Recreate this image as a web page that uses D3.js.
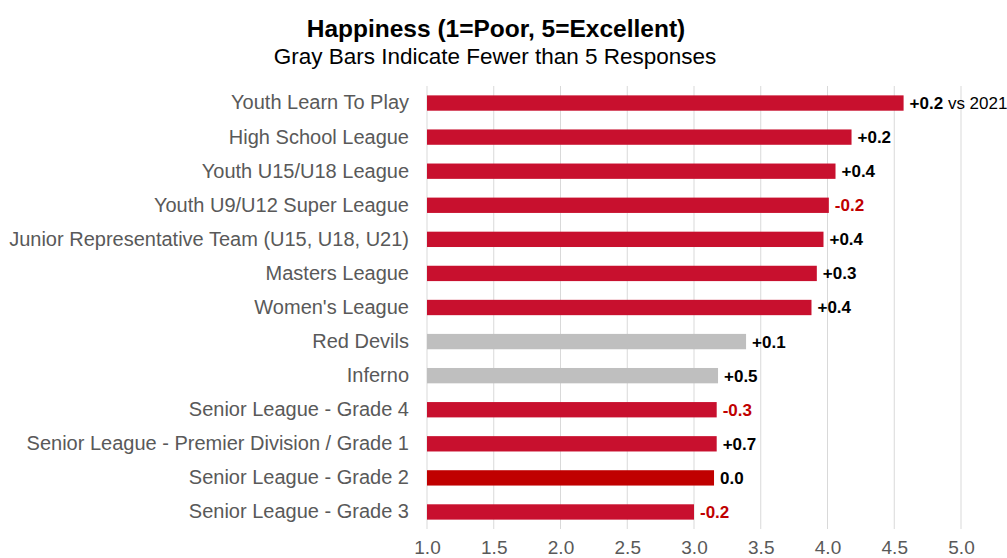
<!DOCTYPE html>
<html>
<head>
<meta charset="utf-8">
<script src="https://cdn.jsdelivr.net/npm/d3@7"></script>
<style>
  body { margin: 0; background: #fff; }
  text { font-family: "Liberation Sans", Arial, sans-serif; }
</style>
</head>
<body>
<div id="chart"></div>
<script>
// categories, top to bottom
const categories = [
  "Youth Learn To Play",
  "High School League",
  "Youth U15/U18 League",
  "Youth U9/U12 Super League",
  "Junior Representative Team (U15, U18, U21)",
  "Masters League",
  "Women's League",
  "Red Devils",
  "Inferno",
  "Senior League - Grade 4",
  "Senior League - Premier Division / Grade 1",
  "Senior League - Grade 2",
  "Senior League - Grade 3"
];
// mean happiness score
const scores = [4.57, 4.18, 4.06, 4.01, 3.97, 3.92, 3.88, 3.39, 3.18, 3.17, 3.17, 3.15, 3.0];
// change vs 2021
const changes = [0.2, 0.2, 0.4, -0.2, 0.4, 0.3, 0.4, 0.1, 0.5, -0.3, 0.7, 0.0, -0.2];
// fewer than 5 responses -> gray bar
const fewResponses = ["Red Devils", "Inferno"];
const xTicks = [1.0, 1.5, 2.0, 2.5, 3.0, 3.5, 4.0, 4.5, 5.0];

const width = 1007, height = 558;
const margin = {left: 427, right: 46, top: 86, bottom: 29};

const svg = d3.select("#chart").append("svg")
  .attr("width", width)
  .attr("height", height);

const x = d3.scaleLinear()
  .domain([1, 5])
  .range([margin.left, width - margin.right]);

const y = d3.scaleBand()
  .domain(categories)
  .range([margin.top, height - margin.bottom])
  .paddingInner(0.55)
  .paddingOuter(0.275);

// titles
svg.append("text")
  .attr("x", 496).attr("y", 37)
  .attr("text-anchor", "middle")
  .attr("font-size", 24.5).attr("font-weight", "bold")
  .attr("fill", "#000")
  .text("Happiness (1=Poor, 5=Excellent)");

svg.append("text")
  .attr("x", 495).attr("y", 64)
  .attr("text-anchor", "middle")
  .attr("font-size", 22.5)
  .attr("fill", "#000")
  .text("Gray Bars Indicate Fewer than 5 Responses");

// gridlines
svg.append("g")
  .selectAll("line")
  .data(xTicks).enter()
  .append("line")
  .attr("x1", d => x(d)).attr("x2", d => x(d))
  .attr("y1", margin.top).attr("y2", height - margin.bottom)
  .attr("stroke", "#d9d9d9")
  .attr("stroke-width", 1);

// x axis labels (sit right at the bottom edge, as in the original)
const xAxis = svg.append("g")
  .attr("transform", `translate(0,${height - margin.bottom})`)
  .call(d3.axisBottom(x).tickValues(xTicks).tickFormat(d3.format(".1f")).tickSize(0));
xAxis.select(".domain").remove();
xAxis.selectAll("text")
  .attr("dy", null)
  .attr("y", 25)
  .attr("font-size", 19)
  .attr("fill", "#595959");

// category labels
const yAxis = svg.append("g")
  .attr("transform", `translate(${margin.left},0)`)
  .call(d3.axisLeft(y).tickSize(0).tickPadding(18));
yAxis.select(".domain").remove();
yAxis.selectAll("text")
  .attr("font-size", 20)
  .attr("fill", "#595959");

// bars
const rows = categories.map((c, i) => ({name: c, score: scores[i], change: changes[i]}));

svg.append("g")
  .selectAll("rect")
  .data(rows).enter()
  .append("rect")
  .attr("x", x(1))
  .attr("y", d => y(d.name))
  .attr("width", d => x(d.score) - x(1))
  .attr("height", y.bandwidth())
  .attr("fill", d => {
    if (fewResponses.indexOf(d.name) !== -1) return "#bfbfbf";
    if (d.change === 0) return "#c00000";
    return "#c8102e";
  });

// change labels
const fmt = d => d === 0 ? "0.0" : (d > 0 ? "+" : "") + d.toFixed(1);
const labels = svg.append("g")
  .selectAll("text")
  .data(rows).enter()
  .append("text")
  .attr("x", d => x(d.score) + 6)
  .attr("y", d => y(d.name) + y.bandwidth() / 2)
  .attr("dy", "0.35em")
  .attr("font-size", 17)
  .attr("font-weight", "bold")
  .attr("fill", d => d.change < 0 ? "#c00000" : "#000");

labels.append("tspan").text(d => fmt(d.change));
labels.filter((d, i) => i === 0)
  .append("tspan")
  .attr("font-weight", "normal")
  .text(" vs 2021");
</script>
</body>
</html>
